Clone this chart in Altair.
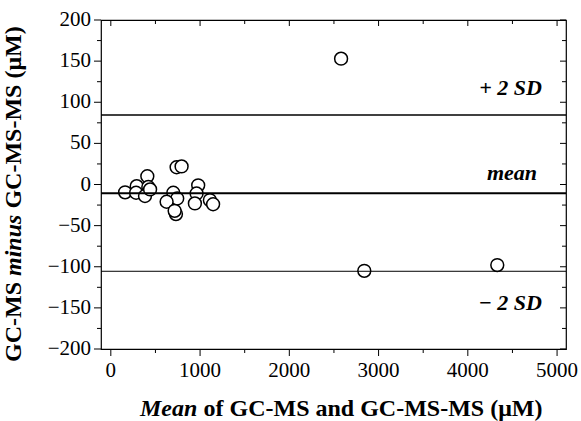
import altair as alt
import pandas as pd

# Data (Bland-Altman style plot)
mean_x = [160, 290, 283, 409, 420, 383, 440, 737, 793, 700, 744, 625, 730, 715,
          979, 961, 942, 1110, 1146, 2580, 2840, 4330]
diff_y = [-9.5, -2, -10, 10, -3, -14, -6, 21, 22, -10, -17, -21, -36, -32,
          -1, -11, -23, -19, -24, 153, -105, -98]

line_names = ["+2SD", "mean", "-2SD"]
line_values = [84.5, -10.5, -105.5]
line_widths = [1.4, 2.0, 1.0]

y_major = [-200, -150, -100, -50, 0, 50, 100, 150, 200]
y_minor = [-175, -125, -75, -25, 25, 75, 125, 175]
x_major = [0, 1000, 2000, 3000, 4000, 5000]
x_minor = [500, 1500, 2500, 3500, 4500]

W, H = 465, 329
FONT = "Liberation Serif"
LFONT = "'Liberation Serif', 'Times New Roman', Times, serif"

xs = alt.Scale(domain=[-110, 5100], nice=False, zero=False)
ys = alt.Scale(domain=[-200, 200], nice=False, zero=False)

pts = pd.DataFrame({"x": mean_x, "y": diff_y})
ymaj = pd.DataFrame({"v": y_major})
ymin = pd.DataFrame({"v": y_minor})
xmaj = pd.DataFrame({"v": x_major})
xmin = pd.DataFrame({"v": x_minor})

points = alt.Chart(pts).mark_point(
    shape="circle", filled=True, fill="white", stroke="black",
    strokeWidth=1.5, size=165, opacity=1
).encode(
    x=alt.X("x:Q", scale=xs, axis=None),
    y=alt.Y("y:Q", scale=ys, axis=None),
)

layers = []
for name, v, w in zip(line_names, line_values, line_widths):
    layers.append(
        alt.Chart(pd.DataFrame({"v": [v]})).mark_rule(color="black", strokeWidth=w)
        .encode(y=alt.Y("v:Q", scale=ys, axis=None))
    )

def yticks(df, x1, x2):
    return alt.Chart(df).mark_rule(color="black", strokeWidth=1).encode(
        y=alt.Y("v:Q", scale=ys, axis=None), x=alt.value(x1), x2=alt.value(x2))

def xticks(df, y1, y2):
    return alt.Chart(df).mark_rule(color="black", strokeWidth=1).encode(
        x=alt.X("v:Q", scale=xs, axis=None), y=alt.value(y1), y2=alt.value(y2))

ticks = [
    yticks(ymaj, -7, 0), yticks(ymin, -4, 0),
    yticks(ymaj, W - 6, W), yticks(ymin, W - 4, W),
    xticks(xmaj, H, H + 7), xticks(xmin, H, H + 4),
    xticks(xmaj, 0, 6), xticks(xmin, 0, 4),
]

# tick labels as text marks positioned through the scales
ylab = alt.Chart(ymaj).transform_calculate(
    lab="datum.v < 0 ? '\u2212' + abs(datum.v) : '' + datum.v"
).mark_text(font=LFONT, fontSize=21, fontWeight="normal", align="right",
            baseline="middle", color="black").encode(
    y=alt.Y("v:Q", scale=ys, axis=None), x=alt.value(-10), text="lab:N")
xlab = alt.Chart(xmaj).mark_text(
    font=LFONT, fontSize=21, fontWeight="normal", align="center",
    baseline="alphabetic", color="black").encode(
    x=alt.X("v:Q", scale=xs, axis=None), y=alt.value(H + 28), text="v:N")

def txt(text, x, y, style="normal", align="left", angle=0, size=24):
    return alt.Chart(pd.DataFrame({"t": [text]})).mark_text(
        font=FONT, fontSize=size, fontWeight="bold", fontStyle=style,
        align=align, baseline="alphabetic", angle=angle, color="black"
    ).encode(text="t:N", x=alt.value(x), y=alt.value(y))

annots = [
    txt("+ 2 SD", 441, 75, style="italic", align="right", size=22),
    txt("mean", 436, 160, style="italic", align="right", size=22),
    txt("\u2212 2 SD", 441, 290, style="italic", align="right", size=22),
    # x title
    txt("Mean", 39, 396, style="italic"),
    txt("of GC-MS and GC-MS-MS (\u03bcM)", 102.5, 396),
    # y title (rotated)
    txt("GC-MS", -80, 342, angle=270),
    txt("minus", -80, 256, style="italic", angle=270),
    txt("GC-MS-MS (\u03bcM)", -80, 188.6, angle=270),
]

chart = alt.layer(points, *layers, *ticks, ylab, xlab, *annots).properties(
    width=W, height=H,
    autosize=alt.AutoSizeParams(type="none"),
    padding={"left": 101, "top": 20, "right": 15, "bottom": 72},
    background="white",
).configure_view(stroke="black", strokeWidth=1.2)

chart.save("out.html", embed_options={"renderer": "svg", "actions": False})
